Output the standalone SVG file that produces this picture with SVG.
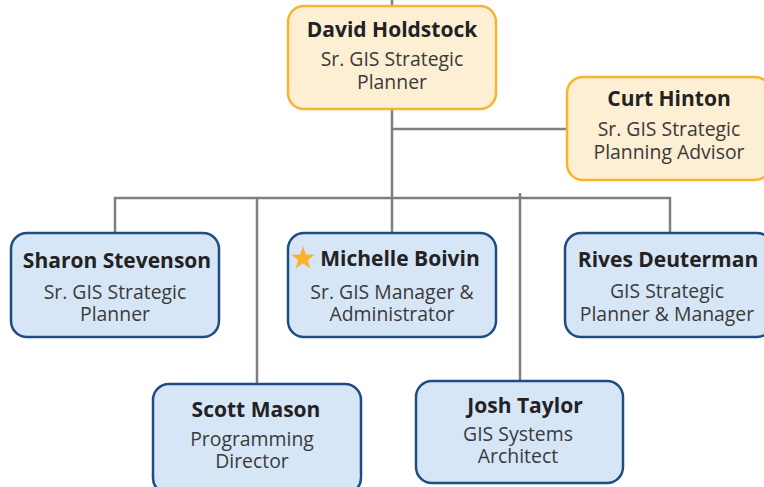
<svg xmlns="http://www.w3.org/2000/svg" width="764" height="487" viewBox="0 0 764 487">
<style>
.lead rect{fill:#FDEFD3;stroke:#F9B42E;stroke-width:2.5}
.staff rect{fill:#D6E6F7;stroke:#1F4C82;stroke-width:2.5}
.name{font-family:"Open Sans","Noto Sans",sans-serif;font-weight:bold;font-size:21px;fill:#222;text-anchor:middle}
.title{font-family:"Open Sans","Noto Sans",sans-serif;font-size:19.4px;fill:#3a3a3a;text-anchor:middle}
#connectors path{fill:none;stroke:#7f7f7f;stroke-width:2.5}
</style>
<rect width="764" height="487" fill="#ffffff"/>
<g id="connectors">
<path d="M392 0V6"/>
<path d="M392 108V233"/>
<path d="M392 129H568"/>
<path d="M115 233V198H670V233"/>
<path d="M257 198V384"/>
<path d="M520 193V381"/>
</g>
<g id="david" class="lead">
<rect x="288" y="6" width="208" height="103" rx="16"/>
<text class="name" x="392" y="37">David Holdstock</text>
<text class="title" x="392" y="66">Sr. GIS Strategic</text>
<text class="title" x="392" y="89">Planner</text>
</g>
<g id="curt" class="lead">
<rect x="567" y="77" width="204" height="103" rx="16"/>
<text class="name" x="669" y="106">Curt Hinton</text>
<text class="title" x="669" y="136">Sr. GIS Strategic</text>
<text class="title" x="669" y="159">Planning Advisor</text>
</g>
<g id="sharon" class="staff">
<rect x="11" y="233" width="208" height="104" rx="16"/>
<text class="name" x="117" y="268">Sharon Stevenson</text>
<text class="title" x="115" y="299">Sr. GIS Strategic</text>
<text class="title" x="115" y="321">Planner</text>
</g>
<g id="michelle" class="staff">
<rect x="288" y="233" width="208" height="104" rx="16"/>
<polygon points="303,246 306,254.5 315,254.7 307.8,260 310.4,268.6 303,263.5 295.6,268.6 298.2,260 291,254.7 300,254.5" fill="#F9B42E"/>
<text class="name" x="400" y="266">Michelle Boivin</text>
<text class="title" x="392" y="299">Sr. GIS Manager &amp;</text>
<text class="title" x="392" y="321">Administrator</text>
</g>
<g id="rives" class="staff">
<rect x="565" y="233" width="208" height="104" rx="16"/>
<text class="name" x="668" y="267">Rives Deuterman</text>
<text class="title" x="667" y="298">GIS Strategic</text>
<text class="title" x="667" y="321">Planner &amp; Manager</text>
</g>
<g id="scott" class="staff">
<rect x="153" y="384" width="208" height="110" rx="16"/>
<text class="name" x="256" y="417">Scott Mason</text>
<text class="title" x="252" y="446">Programming</text>
<text class="title" x="252" y="468">Director</text>
</g>
<g id="josh" class="staff">
<rect x="416" y="381" width="207" height="102" rx="16"/>
<text class="name" x="525" y="413">Josh Taylor</text>
<text class="title" x="518" y="441">GIS Systems</text>
<text class="title" x="518" y="463">Architect</text>
</g>
</svg>
